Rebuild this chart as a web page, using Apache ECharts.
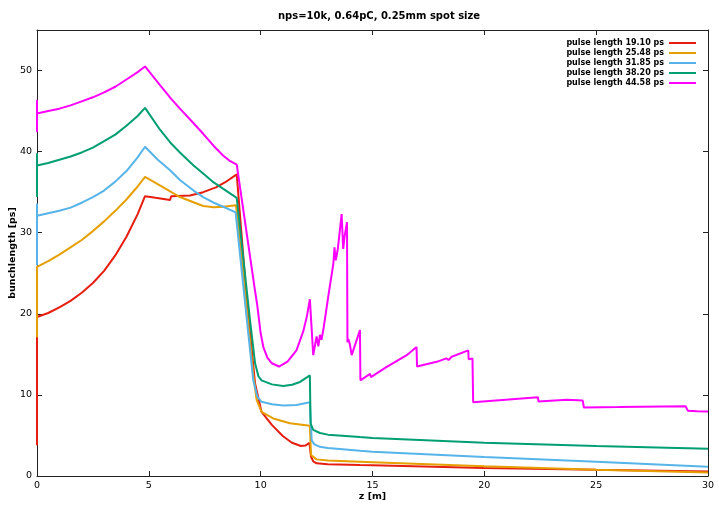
<!DOCTYPE html>
<html>
<head>
<meta charset="utf-8">
<script src="https://cdn.jsdelivr.net/npm/echarts@6/dist/echarts.min.js"></script>
<style>
  html, body { margin: 0; padding: 0; background: #fff; }
  #chart { width: 719px; height: 506px; }
</style>
</head>
<body>
<div id="chart"></div>
<script>
// Bunch length along the beamline for five initial pulse lengths
const chartTitle = 'nps=10k, 0.64pC, 0.25mm spot size';
const seriesNames = [
  'pulse length 19.10 ps',
  'pulse length 25.48 ps',
  'pulse length 31.85 ps',
  'pulse length 38.20 ps',
  'pulse length 44.58 ps'
];
const seriesColors = ['#e51e10', '#e69f00', '#56b4e9', '#009e73', '#ff00ff'];

// [z (m), bunch length (ps)]
const pulse1910 = [
  [0, 3.8], [0, 19.6], [0.5, 20.1], [1, 20.8], [1.5, 21.6], [2, 22.6], [2.5, 23.8],
  [3, 25.3], [3.5, 27.2], [4, 29.5], [4.5, 32.3], [4.83, 34.5], [5.3, 34.3],
  [5.95, 34.05], [6.0, 34.5], [6.84, 34.6], [7.43, 35.0], [8.0, 35.6], [8.4, 36.2],
  [8.93, 37.2], [9.37, 22.0], [9.75, 11.4], [10.04, 7.9], [10.5, 6.3], [11.0, 4.9],
  [11.4, 4.1], [11.8, 3.7], [12.0, 3.75], [12.18, 4.1], [12.25, 2.4], [12.35, 1.8],
  [12.5, 1.56], [13, 1.45], [14.44, 1.35], [15, 1.33], [20, 1.0], [25, 0.76], [30, 0.55]
];
const pulse2548 = [
  [0, 17.1], [0, 25.8], [0.5, 26.5], [1, 27.3], [1.5, 28.2], [2, 29.1], [2.5, 30.2],
  [3, 31.4], [3.5, 32.7], [4, 34.1], [4.5, 35.7], [4.83, 36.9], [5.65, 35.6],
  [6.39, 34.4], [7.43, 33.3], [7.9, 33.15], [8.33, 33.2], [8.9, 33.4], [9.4, 20.0],
  [9.67, 12.5], [9.82, 9.4], [10.04, 7.9], [10.56, 7.1], [11.31, 6.5], [12.2, 6.2],
  [12.25, 2.6], [12.5, 2.05], [13, 1.9], [14.44, 1.76], [15, 1.7], [20, 1.2],
  [25, 0.78], [30, 0.42]
];
const pulse3185 = [
  [0, 26.0], [0, 33.6], [0, 32.1], [0.5, 32.4], [1, 32.7], [1.5, 33.1], [2, 33.7],
  [2.5, 34.4], [3, 35.2], [3.5, 36.3], [4, 37.6], [4.5, 39.3], [4.83, 40.6],
  [5.4, 39.0], [5.95, 37.7], [6.39, 36.5], [7.0, 35.2], [7.43, 34.4], [7.9, 33.7],
  [8.33, 33.2], [8.88, 32.5], [9.37, 19.6], [9.67, 11.8], [9.85, 9.8], [10.04, 9.15],
  [10.5, 8.85], [11.01, 8.7], [11.6, 8.75], [12.2, 9.1], [12.28, 4.4], [12.4, 3.9],
  [12.65, 3.6], [13, 3.45], [14.44, 3.1], [15, 3.0], [20, 2.35], [25, 1.75], [30, 1.15]
];
const pulse3820 = [
  [0, 34.4], [0, 39.8], [0, 38.3], [0.5, 38.6], [1, 39.0], [1.5, 39.4], [2, 39.9],
  [2.5, 40.5], [3, 41.3], [3.5, 42.1], [4, 43.2], [4.5, 44.4], [4.83, 45.4],
  [5.5, 42.7], [6.0, 41.0], [6.39, 39.9], [7.0, 38.3], [7.43, 37.3], [7.9, 36.2],
  [8.33, 35.4], [8.93, 34.3], [9.52, 19.3], [9.75, 13.9], [9.9, 12.3], [10.04, 11.8],
  [10.5, 11.3], [11.01, 11.1], [11.4, 11.25], [11.76, 11.6], [12.2, 12.4], [12.23, 6.5],
  [12.35, 5.7], [12.65, 5.3], [13, 5.1], [14.44, 4.8], [15, 4.7], [20, 4.1],
  [25, 3.7], [30, 3.35]
];
const pulse4458 = [
  [0, 42.4], [0, 46.4], [0, 44.7], [0.5, 45.0], [1, 45.3], [1.5, 45.7], [2, 46.2],
  [2.5, 46.7], [3, 47.3], [3.5, 48.0], [4, 48.9], [4.5, 49.8], [4.83, 50.5],
  [5.5, 48.2], [6.0, 46.5], [6.39, 45.3], [7.0, 43.5], [7.43, 42.2], [7.9, 40.7],
  [8.33, 39.5], [8.6, 38.9], [8.93, 38.4], [9.75, 22.8], [9.85, 21.0], [10.0, 17.6],
  [10.12, 15.9], [10.3, 14.6], [10.5, 13.9], [10.82, 13.5], [11.2, 14.1], [11.6, 15.5],
  [11.9, 17.8], [12.06, 19.6], [12.2, 21.8], [12.35, 14.9], [12.5, 17.2], [12.58, 16.0],
  [12.65, 17.4], [12.72, 16.8], [12.8, 18.0], [13.02, 22.1], [13.25, 26.2], [13.3, 28.2],
  [13.36, 26.6], [13.45, 28.0], [13.62, 32.3], [13.69, 28.0], [13.75, 29.5], [13.86, 31.3],
  [13.88, 16.5], [13.92, 16.9], [13.99, 16.2], [14.07, 14.9], [14.44, 18.0], [14.46, 11.8],
  [14.89, 12.6], [14.93, 12.2], [15.6, 13.4], [16.53, 14.9], [16.6, 14.7], [16.97, 15.9],
  [16.99, 13.5], [17.87, 14.1], [18.0, 14.2], [18.3, 14.5], [18.4, 14.3], [18.54, 14.7],
  [19.28, 15.5], [19.3, 14.4], [19.47, 14.5], [19.5, 9.1], [22.4, 9.7], [22.42, 9.2],
  [23.7, 9.4], [23.75, 9.25], [24.4, 9.3], [24.45, 8.45], [26, 8.5], [27, 8.55],
  [29.0, 8.6], [29.1, 8.05], [29.5, 8.0], [30, 7.95]
];
const seriesData = [pulse1910, pulse2548, pulse3185, pulse3820, pulse4458];

const zRange = [0, 30];
const zStep = 5;
const blRange = [0, 55];
const blStep = 10;

const fontFamily = '"DejaVu Sans", Verdana, sans-serif';
const axisColor = '#222';

const chart = echarts.init(document.getElementById('chart'), null, { renderer: 'canvas' });

function valueAxis(range, step, opts) {
  return Object.assign({
    type: 'value',
    min: range[0],
    max: range[1],
    interval: step,
    nameMoveOverlap: false,
    splitLine: { show: false },
    axisLine: { show: true, onZero: false, lineStyle: { color: axisColor, width: 1 } },
    axisTick: { show: true, inside: true, length: 5, lineStyle: { color: axisColor } },
    axisLabel: {
      show: true, color: '#000', fontFamily: fontFamily, fontSize: 9.5, margin: 5,
      showMaxLabel: range[1] % step === 0
    }
  }, opts);
}

chart.setOption({
  animation: false,
  backgroundColor: '#fff',
  title: {
    text: chartTitle,
    left: 273,
    top: 6,
    textStyle: { fontFamily: fontFamily, fontSize: 10, fontWeight: 'bold', color: '#000' }
  },
  grid: {
    left: 37, right: 11, top: 30, bottom: 30,
    containLabel: false,
    outerBoundsMode: 'none'
  },
  legend: {
    data: seriesNames,
    orient: 'vertical',
    align: 'right',
    right: 18,
    top: 33,
    itemGap: 0,
    itemWidth: 27,
    itemHeight: 2,
    icon: 'rect',
    textStyle: { fontFamily: fontFamily, fontSize: 8, fontWeight: 'bold', color: '#000', lineHeight: 10 }
  },
  xAxis: [
    valueAxis(zRange, zStep, {
      position: 'bottom',
      name: 'z [m]',
      nameLocation: 'middle',
      nameGap: 16,
      nameTextStyle: { fontFamily: fontFamily, fontSize: 9.5, fontWeight: 'bold', color: '#000' }
    }),
    valueAxis(zRange, zStep, { position: 'top', axisLabel: { show: false } })
  ],
  yAxis: [
    valueAxis(blRange, blStep, {
      position: 'left',
      name: 'bunchlength [ps]',
      nameLocation: 'middle',
      nameGap: 19,
      nameTextStyle: { fontFamily: fontFamily, fontSize: 9.5, fontWeight: 'bold', color: '#000' }
    }),
    valueAxis(blRange, blStep, { position: 'right', axisLabel: { show: false } })
  ],
  series: seriesData.map((d, i) => ({
    name: seriesNames[i],
    type: 'line',
    xAxisIndex: 0,
    yAxisIndex: 0,
    data: d,
    showSymbol: false,
    symbol: 'none',
    smooth: false,
    color: seriesColors[i],
    lineStyle: { color: seriesColors[i], width: 2 },
    emphasis: { disabled: true }
  }))
});
</script>
</body>
</html>
